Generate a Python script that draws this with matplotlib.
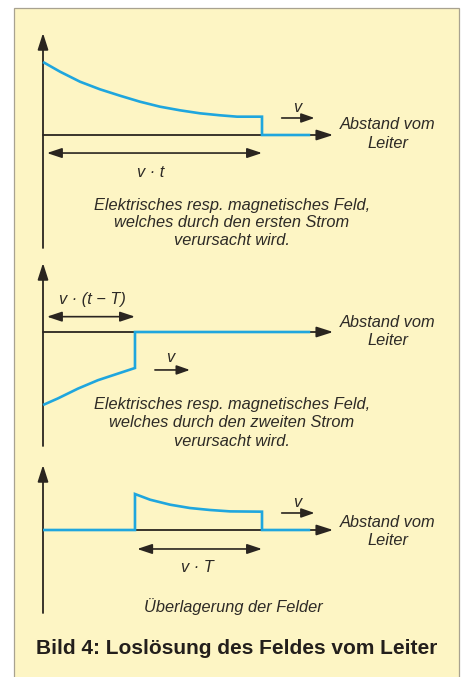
import matplotlib
matplotlib.use('Agg')
import matplotlib.pyplot as plt
from matplotlib.patches import Rectangle
from matplotlib import font_manager

# ---------------- data ----------------
# field of the first current (panel 1), distance in units where v*t = 10
dist1 = [0, 0.78, 1.69, 2.6, 3.52, 4.43, 5.34, 6.26, 7.17, 8.08, 8.86, 10]
field1 = [10, 8.67, 7.3, 6.26, 5.38, 4.56, 3.88, 3.38, 2.97, 2.7, 2.51, 2.51]
# field of the second current (panel 2)
dist2 = [0, 0.68, 1.6, 2.51, 3.42, 4.2]
field2 = [-10, -9.1, -7.75, -6.6, -5.7, -4.93]
# superposition (panel 3)
dist3 = [4.2, 4.89, 5.8, 6.71, 7.63, 8.54, 10]
field3 = [4.93, 4.15, 3.47, 3.01, 2.74, 2.55, 2.51]
front1 = 10.0     # v*t
front2 = 4.2      # v*(t-T)
tail_end = 12.2
axis_end = 13.25

xlabel_lines = ["Abstand vom", "Leiter"]
caption1 = ["Elektrisches resp. magnetisches Feld,", "welches durch den ersten Strom", "verursacht wird."]
caption2 = ["Elektrisches resp. magnetisches Feld,", "welches durch den zweiten Strom", "verursacht wird."]
caption3 = "Überlagerung der Felder"
title = "Bild 4: Loslösung des Feldes vom Leiter"
dim1, dim2, dim3 = "v · t", "v · (t − T)", "v · T"

# ---------------- style ----------------
W, H = 463, 677
X0, SX, SY = 43.0, 21.9, 7.3
BG = "#FDF5C4"
DARK = "#2a2520"
BLUE = "#1FA6DE"
TXT = "#2d2a26"

names = {f.name for f in font_manager.fontManager.ttflist}
narrow = "Liberation Sans Narrow" if "Liberation Sans Narrow" in names else "Liberation Sans"
FS = 11.8

fig = plt.figure(figsize=(W / 100, H / 100), dpi=100)
fig.patch.set_facecolor("white")
fig.patches.append(Rectangle((14 / W, -0.01), (459 - 14) / W, 1 - 8 / H + 0.01,
                             transform=fig.transFigure, facecolor=BG,
                             edgecolor="#a8a290", lw=0.9, zorder=-5))


def make_axes(axis_px):
    ax = fig.add_axes([0, 0, 1, 1], zorder=2)
    ax.set_xlim(-X0 / SX, (W - X0) / SX)
    ax.set_ylim(-(H - axis_px) / SY, axis_px / SY)
    ax.axis("off")
    ax.patch.set_alpha(0)
    return ax


def arrow(ax, p0, p1, style="-|>", hl=1.0, hw=0.32, lw=1.3):
    ax.annotate("", xy=p1, xytext=p0,
                arrowprops=dict(arrowstyle=f"{style},head_length={hl},head_width={hw}",
                                lw=lw, color=DARK, shrinkA=0, shrinkB=0,
                                mutation_scale=10), zorder=2)


def txt(ax, x, y, s, **kw):
    ax.text(x, y, s, ha="center", va="center", fontsize=FS, style="italic",
            family=[narrow, "DejaVu Sans"], color=TXT, **kw)


panels = [135, 332, 530]
y_tops = [(135 - 33) / SY, (332 - 263) / SY, (530 - 465) / SY]
y_bots = [-(248 - 135) / SY, -(446 - 332) / SY, -(613 - 530) / SY]

axes = [make_axes(p) for p in panels]
for ax, yt, yb in zip(axes, y_tops, y_bots):
    arrow(ax, (0, yb), (0, yt))
    arrow(ax, (0, 0), (axis_end, 0))

line_kw = dict(color=BLUE, lw=1.9, zorder=3, solid_joinstyle="miter",
               solid_capstyle="butt")

# panel 1
ax = axes[0]
ax.plot(dist1 + [front1, tail_end], field1 + [0, 0], **line_kw)
arrow(ax, (10.9, 2.33), (12.4, 2.33), hl=0.8, hw=0.28, lw=1.2)
txt(ax, 11.6, 3.7, "v")
txt(ax, 15.75, 1.5, xlabel_lines[0])
txt(ax, 15.75, -1.1, xlabel_lines[1])
arrow(ax, (0.18, -2.47), (front1, -2.47), style="<|-|>", hl=0.9, hw=0.3, lw=1.2)
txt(ax, 4.9, -5.2, dim1)
for s, yy in zip(caption1, [-9.6, -12.05, -14.5]):
    txt(ax, 8.63, yy, s)

# panel 2
ax = axes[1]
ax.plot(dist2 + [front2, tail_end], field2 + [0, 0], **line_kw)
txt(ax, 2.24, 4.4, dim2)
arrow(ax, (0.18, 2.1), (front2, 2.1), style="<|-|>", hl=0.9, hw=0.3, lw=1.2)
arrow(ax, (5.11, -5.2), (6.71, -5.2), hl=0.8, hw=0.28, lw=1.2)
txt(ax, 5.8, -3.5, "v")
txt(ax, 15.75, 1.25, xlabel_lines[0])
txt(ax, 15.75, -1.2, xlabel_lines[1])
for s, yy in zip(caption2, [-9.95, -12.4, -15.0]):
    txt(ax, 8.63, yy, s)

# panel 3
ax = axes[2]
ax.plot([0, front2] + dist3 + [front1, tail_end], [0, 0] + field3 + [0, 0], **line_kw)
arrow(ax, (10.9, 2.33), (12.4, 2.33), hl=0.8, hw=0.28, lw=1.2)
txt(ax, 11.6, 3.7, "v")
txt(ax, 15.75, 1.0, xlabel_lines[0])
txt(ax, 15.75, -1.47, xlabel_lines[1])
arrow(ax, (front2 + 0.1, -2.6), (front1, -2.6), style="<|-|>", hl=0.9, hw=0.3, lw=1.2)
txt(ax, 7.03, -5.2, dim3)
txt(ax, 8.68, -10.5, caption3)

fig.text(237 / W, 1 - 648 / H, title, ha="center", va="center", fontsize=15,
         fontweight="bold", family=["Liberation Sans", "DejaVu Sans"], color="#231f1c")

fig.savefig("out.png", dpi=100, facecolor="white")
